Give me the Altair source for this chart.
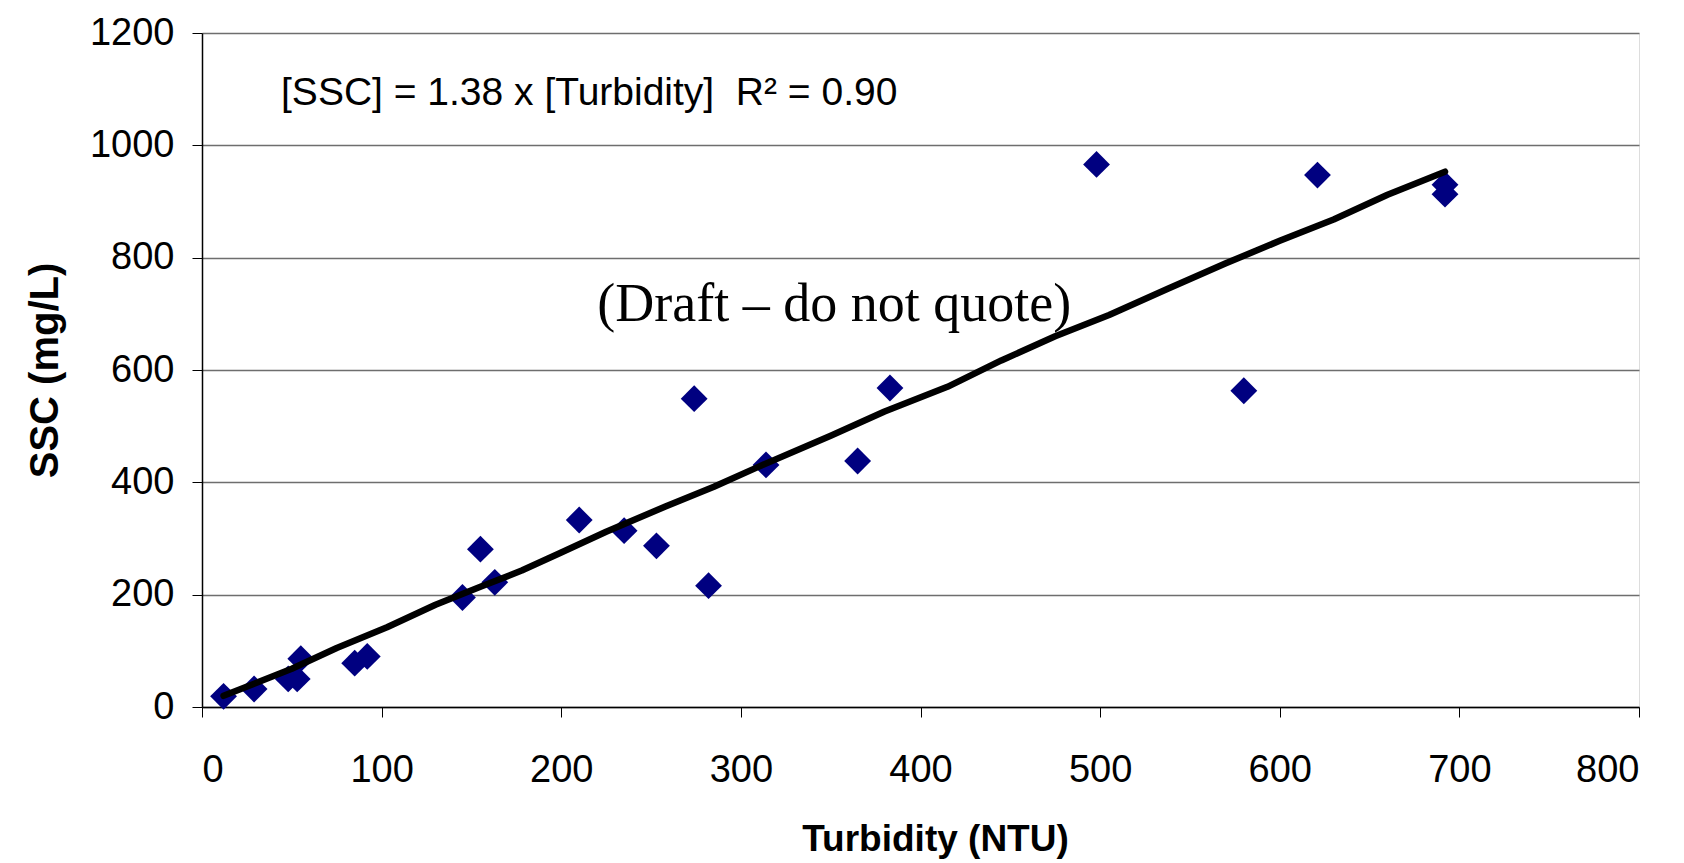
import altair as alt
import pandas as pd

# Observed samples
turbidity = [12, 29, 48, 53, 55, 85, 92, 145, 155, 163, 210, 235, 253, 274, 282,
             314, 365, 383, 498, 580, 621, 692, 692]
ssc = [19, 32, 50, 50, 86, 78, 90, 195, 281, 222, 333, 314, 287, 549, 216,
       431, 438, 568, 966, 563, 947, 930, 913]

# Fitted line vertices
fit_x = [12, 28, 50, 75, 103, 130, 155, 178, 200, 225, 258, 285, 310, 350, 380,
         415, 445, 475, 505, 538, 570, 600, 630, 660, 692]
fit_y = [20, 40, 68, 105, 142, 182, 214, 243, 275, 312, 357, 392, 428, 483, 526,
         570, 617, 660, 698, 745, 790, 830, 868, 912, 953]

x_ticks = [0, 100, 200, 300, 400, 500, 600, 700, 800]
y_ticks = [0, 200, 400, 600, 800, 1000, 1200]

pts = pd.DataFrame({"Turbidity": turbidity, "SSC": ssc})
fit = pd.DataFrame({"Turbidity": fit_x, "SSC": fit_y})

xs = alt.Scale(domain=[0, 800], nice=False, zero=False)
ys = alt.Scale(domain=[0, 1200], nice=False, zero=False)

x_axis = alt.Axis(values=x_ticks, title="Turbidity (NTU)", grid=False, format="d",
                  labelFontSize=38, labelFont="Liberation Sans", labelColor="black",
                  labelPadding=34, tickSize=10, tickColor="black", tickWidth=1,
                  domainColor="black", domainWidth=1.5,
                  titleFontSize=37, titleFont="Liberation Sans", titleFontWeight="bold",
                  titleColor="black", titlePadding=32, titleX=733)
y_axis = alt.Axis(values=y_ticks, title="SSC (mg/L)", grid=True, gridColor="#6e6e6e",
                  gridWidth=1.3, format="d", labelFontSize=38, labelFont="Liberation Sans",
                  labelColor="black", labelPadding=18, tickSize=10, tickColor="black",
                  domainColor="black", domainWidth=1.5,
                  titleFontSize=40, titleFont="Liberation Sans", titleFontWeight="bold",
                  titleColor="black", titlePadding=24)

points = alt.Chart(pts).mark_point(shape="diamond", filled=True, color="#000080",
                                   size=720, opacity=1).encode(
    x=alt.X("Turbidity:Q", scale=xs, axis=x_axis),
    y=alt.Y("SSC:Q", scale=ys, axis=y_axis),
)

line = alt.Chart(fit).mark_line(color="black", strokeWidth=6.5, strokeCap="round",
                                strokeJoin="round").encode(
    x=alt.X("Turbidity:Q", scale=xs),
    y=alt.Y("SSC:Q", scale=ys),
)

eq = alt.Chart(pd.DataFrame({"x": [44], "y": [1094],
                             "t": ["[SSC] = 1.38 x [Turbidity]\u00a0\u00a0R² = 0.90"]})).mark_text(
    align="left", baseline="middle", fontSize=39,
    font="Liberation Sans", color="black"
).encode(x=alt.X("x:Q", scale=xs), y=alt.Y("y:Q", scale=ys), text="t:N")

draft = alt.Chart(pd.DataFrame({"x": [352], "y": [715],
                                "t": ["(Draft – do not quote)"]})).mark_text(
    align="center", baseline="middle", fontSize=54, font="Liberation Serif", color="black"
).encode(x=alt.X("x:Q", scale=xs), y=alt.Y("y:Q", scale=ys), text="t:N")

chart = alt.layer(points, line, eq, draft).properties(
    width=1437, height=674,
    autosize=alt.AutoSizeParams(type="none"),
    padding={"left": 202, "top": 33, "right": 45, "bottom": 156},
).configure_view(stroke="#808080", strokeWidth=3).configure(background="white")

chart.save("out.html", embed_options={"renderer": "svg", "actions": False})
